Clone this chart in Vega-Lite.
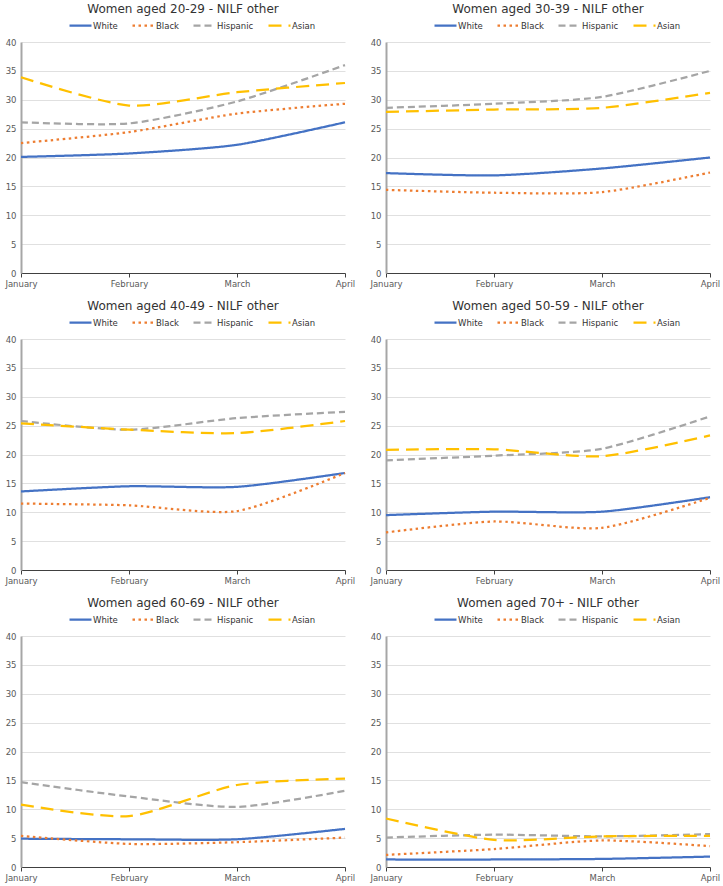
{
  "$schema": "https://vega.github.io/schema/vega-lite/v6.json",
  "padding": {"left": 4, "top": 3, "right": 10, "bottom": 2},
  "background": "white",
  "config": {
    "font": "DejaVu Sans",
    "view": {"stroke": null},
    "title": {"fontSize": 12, "fontWeight": "normal", "color": "#333333", "offset": -3},
    "axis": {"labelFontSize": 8.5, "labelColor": "#595959", "title": null},
    "axisY": {"domainColor": "#A6A6A6", "domainWidth": 2, "ticks": false, "gridColor": "#E0E0E0", "gridWidth": 1, "labelPadding": 5, "values": [0,5,10,15,20,25,30,35,40]},
    "axisX": {"domainColor": "#404040", "domainWidth": 1, "tickColor": "#404040", "tickSize": 4, "grid": false, "labelAngle": 0, "labelPadding": 2},
    "legend": {"orient": "none", "legendX": 47, "legendY": -29, "direction": "horizontal", "title": null, "labelFontSize": 8.5, "labelColor": "#333333", "symbolType": "stroke", "symbolSize": 484, "symbolStrokeWidth": 2.25, "columnPadding": 10, "labelOffset": 0, "padding": 0},
    "line": {"strokeWidth": 2.25, "interpolate": "cardinal", "tension": 0.3}
  },
  "data": {"values": [
    {"panel": "20-29", "month": "January", "race": "White", "v": 20.1},
    {"panel": "20-29", "month": "February", "race": "White", "v": 20.7},
    {"panel": "20-29", "month": "March", "race": "White", "v": 22.2},
    {"panel": "20-29", "month": "April", "race": "White", "v": 26.1},
    {"panel": "20-29", "month": "January", "race": "Black", "v": 22.5},
    {"panel": "20-29", "month": "February", "race": "Black", "v": 24.4},
    {"panel": "20-29", "month": "March", "race": "Black", "v": 27.6},
    {"panel": "20-29", "month": "April", "race": "Black", "v": 29.3},
    {"panel": "20-29", "month": "January", "race": "Hispanic", "v": 26.1},
    {"panel": "20-29", "month": "February", "race": "Hispanic", "v": 25.9},
    {"panel": "20-29", "month": "March", "race": "Hispanic", "v": 29.7},
    {"panel": "20-29", "month": "April", "race": "Hispanic", "v": 36.0},
    {"panel": "20-29", "month": "January", "race": "Asian", "v": 33.9},
    {"panel": "20-29", "month": "February", "race": "Asian", "v": 29.0},
    {"panel": "20-29", "month": "March", "race": "Asian", "v": 31.3},
    {"panel": "20-29", "month": "April", "race": "Asian", "v": 32.9},

    {"panel": "30-39", "month": "January", "race": "White", "v": 17.3},
    {"panel": "30-39", "month": "February", "race": "White", "v": 16.9},
    {"panel": "30-39", "month": "March", "race": "White", "v": 18.1},
    {"panel": "30-39", "month": "April", "race": "White", "v": 20.0},
    {"panel": "30-39", "month": "January", "race": "Black", "v": 14.4},
    {"panel": "30-39", "month": "February", "race": "Black", "v": 13.9},
    {"panel": "30-39", "month": "March", "race": "Black", "v": 14.0},
    {"panel": "30-39", "month": "April", "race": "Black", "v": 17.4},
    {"panel": "30-39", "month": "January", "race": "Hispanic", "v": 28.6},
    {"panel": "30-39", "month": "February", "race": "Hispanic", "v": 29.3},
    {"panel": "30-39", "month": "March", "race": "Hispanic", "v": 30.5},
    {"panel": "30-39", "month": "April", "race": "Hispanic", "v": 35.0},
    {"panel": "30-39", "month": "January", "race": "Asian", "v": 27.9},
    {"panel": "30-39", "month": "February", "race": "Asian", "v": 28.3},
    {"panel": "30-39", "month": "March", "race": "Asian", "v": 28.6},
    {"panel": "30-39", "month": "April", "race": "Asian", "v": 31.2},

    {"panel": "40-49", "month": "January", "race": "White", "v": 13.6},
    {"panel": "40-49", "month": "February", "race": "White", "v": 14.5},
    {"panel": "40-49", "month": "March", "race": "White", "v": 14.4},
    {"panel": "40-49", "month": "April", "race": "White", "v": 16.8},
    {"panel": "40-49", "month": "January", "race": "Black", "v": 11.5},
    {"panel": "40-49", "month": "February", "race": "Black", "v": 11.2},
    {"panel": "40-49", "month": "March", "race": "Black", "v": 10.2},
    {"panel": "40-49", "month": "April", "race": "Black", "v": 16.8},
    {"panel": "40-49", "month": "January", "race": "Hispanic", "v": 25.8},
    {"panel": "40-49", "month": "February", "race": "Hispanic", "v": 24.3},
    {"panel": "40-49", "month": "March", "race": "Hispanic", "v": 26.3},
    {"panel": "40-49", "month": "April", "race": "Hispanic", "v": 27.4},
    {"panel": "40-49", "month": "January", "race": "Asian", "v": 25.4},
    {"panel": "40-49", "month": "February", "race": "Asian", "v": 24.3},
    {"panel": "40-49", "month": "March", "race": "Asian", "v": 23.7},
    {"panel": "40-49", "month": "April", "race": "Asian", "v": 25.8},

    {"panel": "50-59", "month": "January", "race": "White", "v": 9.5},
    {"panel": "50-59", "month": "February", "race": "White", "v": 10.1},
    {"panel": "50-59", "month": "March", "race": "White", "v": 10.1},
    {"panel": "50-59", "month": "April", "race": "White", "v": 12.6},
    {"panel": "50-59", "month": "January", "race": "Black", "v": 6.5},
    {"panel": "50-59", "month": "February", "race": "Black", "v": 8.4},
    {"panel": "50-59", "month": "March", "race": "Black", "v": 7.3},
    {"panel": "50-59", "month": "April", "race": "Black", "v": 12.5},
    {"panel": "50-59", "month": "January", "race": "Hispanic", "v": 19.0},
    {"panel": "50-59", "month": "February", "race": "Hispanic", "v": 19.8},
    {"panel": "50-59", "month": "March", "race": "Hispanic", "v": 21.0},
    {"panel": "50-59", "month": "April", "race": "Hispanic", "v": 26.6},
    {"panel": "50-59", "month": "January", "race": "Asian", "v": 20.8},
    {"panel": "50-59", "month": "February", "race": "Asian", "v": 20.9},
    {"panel": "50-59", "month": "March", "race": "Asian", "v": 19.7},
    {"panel": "50-59", "month": "April", "race": "Asian", "v": 23.3},

    {"panel": "60-69", "month": "January", "race": "White", "v": 4.9},
    {"panel": "60-69", "month": "February", "race": "White", "v": 4.8},
    {"panel": "60-69", "month": "March", "race": "White", "v": 4.8},
    {"panel": "60-69", "month": "April", "race": "White", "v": 6.6},
    {"panel": "60-69", "month": "January", "race": "Black", "v": 5.4},
    {"panel": "60-69", "month": "February", "race": "Black", "v": 4.0},
    {"panel": "60-69", "month": "March", "race": "Black", "v": 4.3},
    {"panel": "60-69", "month": "April", "race": "Black", "v": 5.1},
    {"panel": "60-69", "month": "January", "race": "Hispanic", "v": 14.7},
    {"panel": "60-69", "month": "February", "race": "Hispanic", "v": 12.2},
    {"panel": "60-69", "month": "March", "race": "Hispanic", "v": 10.4},
    {"panel": "60-69", "month": "April", "race": "Hispanic", "v": 13.2},
    {"panel": "60-69", "month": "January", "race": "Asian", "v": 10.8},
    {"panel": "60-69", "month": "February", "race": "Asian", "v": 8.8},
    {"panel": "60-69", "month": "March", "race": "Asian", "v": 14.2},
    {"panel": "60-69", "month": "April", "race": "Asian", "v": 15.3},

    {"panel": "70+", "month": "January", "race": "White", "v": 1.3},
    {"panel": "70+", "month": "February", "race": "White", "v": 1.3},
    {"panel": "70+", "month": "March", "race": "White", "v": 1.4},
    {"panel": "70+", "month": "April", "race": "White", "v": 1.8},
    {"panel": "70+", "month": "January", "race": "Black", "v": 2.1},
    {"panel": "70+", "month": "February", "race": "Black", "v": 3.1},
    {"panel": "70+", "month": "March", "race": "Black", "v": 4.6},
    {"panel": "70+", "month": "April", "race": "Black", "v": 3.6},
    {"panel": "70+", "month": "January", "race": "Hispanic", "v": 5.1},
    {"panel": "70+", "month": "February", "race": "Hispanic", "v": 5.6},
    {"panel": "70+", "month": "March", "race": "Hispanic", "v": 5.3},
    {"panel": "70+", "month": "April", "race": "Hispanic", "v": 5.7},
    {"panel": "70+", "month": "January", "race": "Asian", "v": 8.4},
    {"panel": "70+", "month": "February", "race": "Asian", "v": 4.7},
    {"panel": "70+", "month": "March", "race": "Asian", "v": 5.3},
    {"panel": "70+", "month": "April", "race": "Asian", "v": 5.4}
  ]},
  "columns": 2,
  "spacing": {"column": 41, "row": 66},
  "bounds": "flush",
  "resolve": {"legend": {"color": "independent", "strokeDash": "independent"}},
  "concat": [
    {"title": "Women aged 20-29 - NILF other", "width": 324, "height": 231,
     "transform": [{"filter": "datum.panel === '20-29'"}],
     "mark": "line",
     "encoding": {
       "x": {"field": "month", "type": "ordinal", "sort": ["January","February","March","April"], "scale": {"type": "point", "padding": 0}},
       "y": {"field": "v", "type": "quantitative", "scale": {"domain": [0, 40]}},
       "color": {"field": "race", "type": "nominal", "sort": ["White","Black","Hispanic","Asian"], "scale": {"domain": ["White","Black","Hispanic","Asian"], "range": ["#4472C4","#ED7D31","#A5A5A5","#FFC000"]}},
       "strokeDash": {"field": "race", "type": "nominal", "sort": ["White","Black","Hispanic","Asian"], "scale": {"domain": ["White","Black","Hispanic","Asian"], "range": [[1,0],[2.5,3.5],[7,4],[13,7]]}}
     }},
    {"title": "Women aged 30-39 - NILF other", "width": 324, "height": 231,
     "transform": [{"filter": "datum.panel === '30-39'"}],
     "mark": "line",
     "encoding": {
       "x": {"field": "month", "type": "ordinal", "sort": ["January","February","March","April"], "scale": {"type": "point", "padding": 0}},
       "y": {"field": "v", "type": "quantitative", "scale": {"domain": [0, 40]}},
       "color": {"field": "race", "type": "nominal", "sort": ["White","Black","Hispanic","Asian"], "scale": {"domain": ["White","Black","Hispanic","Asian"], "range": ["#4472C4","#ED7D31","#A5A5A5","#FFC000"]}},
       "strokeDash": {"field": "race", "type": "nominal", "sort": ["White","Black","Hispanic","Asian"], "scale": {"domain": ["White","Black","Hispanic","Asian"], "range": [[1,0],[2.5,3.5],[7,4],[13,7]]}}
     }},
    {"title": "Women aged 40-49 - NILF other", "width": 324, "height": 231,
     "transform": [{"filter": "datum.panel === '40-49'"}],
     "mark": "line",
     "encoding": {
       "x": {"field": "month", "type": "ordinal", "sort": ["January","February","March","April"], "scale": {"type": "point", "padding": 0}},
       "y": {"field": "v", "type": "quantitative", "scale": {"domain": [0, 40]}},
       "color": {"field": "race", "type": "nominal", "sort": ["White","Black","Hispanic","Asian"], "scale": {"domain": ["White","Black","Hispanic","Asian"], "range": ["#4472C4","#ED7D31","#A5A5A5","#FFC000"]}},
       "strokeDash": {"field": "race", "type": "nominal", "sort": ["White","Black","Hispanic","Asian"], "scale": {"domain": ["White","Black","Hispanic","Asian"], "range": [[1,0],[2.5,3.5],[7,4],[13,7]]}}
     }},
    {"title": "Women aged 50-59 - NILF other", "width": 324, "height": 231,
     "transform": [{"filter": "datum.panel === '50-59'"}],
     "mark": "line",
     "encoding": {
       "x": {"field": "month", "type": "ordinal", "sort": ["January","February","March","April"], "scale": {"type": "point", "padding": 0}},
       "y": {"field": "v", "type": "quantitative", "scale": {"domain": [0, 40]}},
       "color": {"field": "race", "type": "nominal", "sort": ["White","Black","Hispanic","Asian"], "scale": {"domain": ["White","Black","Hispanic","Asian"], "range": ["#4472C4","#ED7D31","#A5A5A5","#FFC000"]}},
       "strokeDash": {"field": "race", "type": "nominal", "sort": ["White","Black","Hispanic","Asian"], "scale": {"domain": ["White","Black","Hispanic","Asian"], "range": [[1,0],[2.5,3.5],[7,4],[13,7]]}}
     }},
    {"title": "Women aged 60-69 - NILF other", "width": 324, "height": 231,
     "transform": [{"filter": "datum.panel === '60-69'"}],
     "mark": "line",
     "encoding": {
       "x": {"field": "month", "type": "ordinal", "sort": ["January","February","March","April"], "scale": {"type": "point", "padding": 0}},
       "y": {"field": "v", "type": "quantitative", "scale": {"domain": [0, 40]}},
       "color": {"field": "race", "type": "nominal", "sort": ["White","Black","Hispanic","Asian"], "scale": {"domain": ["White","Black","Hispanic","Asian"], "range": ["#4472C4","#ED7D31","#A5A5A5","#FFC000"]}},
       "strokeDash": {"field": "race", "type": "nominal", "sort": ["White","Black","Hispanic","Asian"], "scale": {"domain": ["White","Black","Hispanic","Asian"], "range": [[1,0],[2.5,3.5],[7,4],[13,7]]}}
     }},
    {"title": "Women aged 70+ - NILF other", "width": 324, "height": 231,
     "transform": [{"filter": "datum.panel === '70+'"}],
     "mark": "line",
     "encoding": {
       "x": {"field": "month", "type": "ordinal", "sort": ["January","February","March","April"], "scale": {"type": "point", "padding": 0}},
       "y": {"field": "v", "type": "quantitative", "scale": {"domain": [0, 40]}},
       "color": {"field": "race", "type": "nominal", "sort": ["White","Black","Hispanic","Asian"], "scale": {"domain": ["White","Black","Hispanic","Asian"], "range": ["#4472C4","#ED7D31","#A5A5A5","#FFC000"]}},
       "strokeDash": {"field": "race", "type": "nominal", "sort": ["White","Black","Hispanic","Asian"], "scale": {"domain": ["White","Black","Hispanic","Asian"], "range": [[1,0],[2.5,3.5],[7,4],[13,7]]}}
     }}
  ]
}
